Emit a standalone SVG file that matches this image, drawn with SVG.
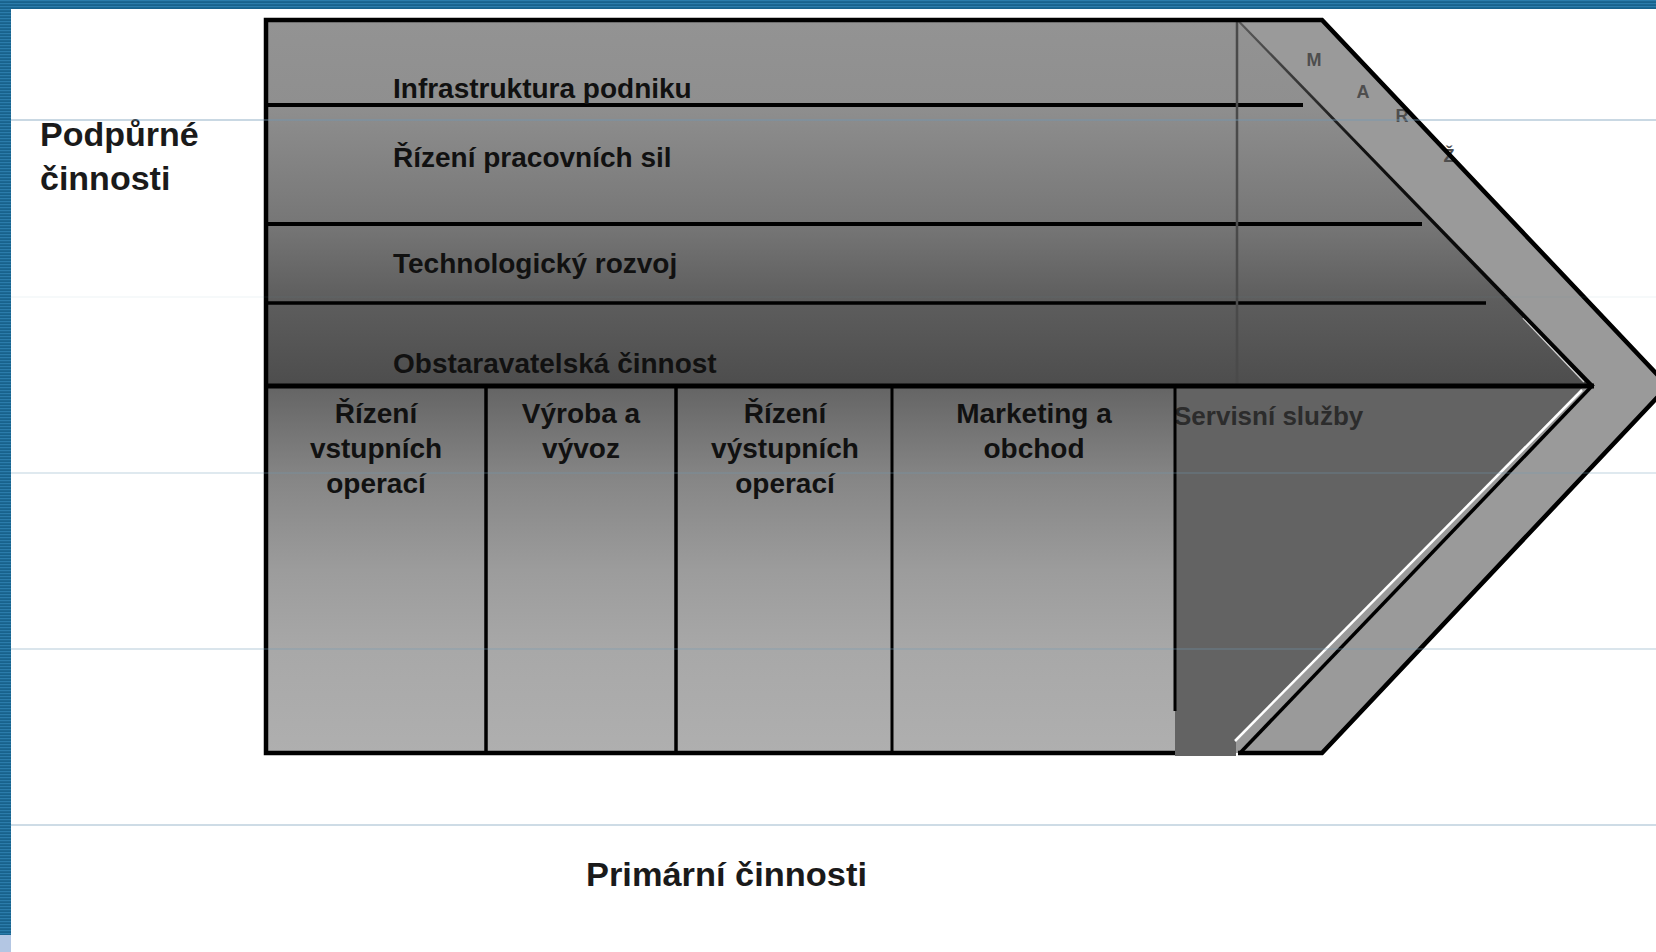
<svg xmlns="http://www.w3.org/2000/svg" width="1656" height="952" viewBox="0 0 1656 952">
  <defs>
    <pattern id="stripes" patternUnits="userSpaceOnUse" width="12" height="3">
      <rect x="0" y="0" width="12" height="3" fill="#18628c"/>
      <rect x="0" y="0" width="12" height="1.2" fill="#2b7cab"/>
    </pattern>
    <linearGradient id="gSupport" gradientUnits="userSpaceOnUse" x1="0" y1="20" x2="0" y2="386">
      <stop offset="0" stop-color="#939393"/>
      <stop offset="0.23" stop-color="#8f8f8f"/>
      <stop offset="0.56" stop-color="#767676"/>
      <stop offset="0.77" stop-color="#5d5d5d"/>
      <stop offset="1" stop-color="#4d4d4d"/>
    </linearGradient>
    <linearGradient id="gPrimary" gradientUnits="userSpaceOnUse" x1="0" y1="388" x2="0" y2="753">
      <stop offset="0" stop-color="#656565"/>
      <stop offset="0.25" stop-color="#868686"/>
      <stop offset="0.5" stop-color="#9c9c9c"/>
      <stop offset="0.72" stop-color="#a8a8a8"/>
      <stop offset="1" stop-color="#afafaf"/>
    </linearGradient>
    <linearGradient id="gDiag" gradientUnits="userSpaceOnUse" x1="0" y1="20" x2="0" y2="386">
      <stop offset="0" stop-color="#5a5a5a"/>
      <stop offset="0.35" stop-color="#111111"/>
      <stop offset="1" stop-color="#000000"/>
    </linearGradient>
  </defs>
  <style>
    .lbl { font-family: "Liberation Sans", Arial, sans-serif; font-weight: bold; font-size: 28px; fill: #111111; }
    .mid { text-anchor: middle; }
    .side { font-family: "Liberation Sans", Arial, sans-serif; font-weight: bold; font-size: 34px; fill: #1a1a1a; }
    .margin { font-family: "Liberation Sans", Arial, sans-serif; font-weight: bold; font-size: 18px; fill: #4e4e4e; text-anchor: middle; }
    .blk { stroke: #000000; fill: none; }
    .grid { stroke: #6f9ab5; stroke-width: 1.5; }
  </style>

  <rect x="0" y="0" width="1656" height="952" fill="#ffffff"/>

  <!-- slide frame -->
  <g id="frame">
    <rect x="0" y="0" width="1656" height="9" fill="url(#stripes)"/>
    <rect x="0" y="0" width="11" height="935" fill="url(#stripes)"/>
    <rect x="0" y="935" width="11" height="17" fill="#b3c6e3"/>
  </g>

  <!-- value chain shape -->
  <g id="chain">
    <polygon points="266,20 1322,20 1668,386 1322,753 266,753" fill="#9a9a9a"/>
    <polygon points="266,20 1237,20 1592,386 266,386" fill="url(#gSupport)"/>
    <rect x="266" y="386" width="909" height="367" fill="url(#gPrimary)"/>
  </g>

  <g id="support-rows">
    <line class="blk" x1="266" y1="105" x2="1303" y2="105" stroke-width="4"/>
    <line class="blk" x1="266" y1="224" x2="1422" y2="224" stroke-width="4"/>
    <line class="blk" x1="266" y1="303" x2="1486" y2="303" stroke-width="3.5"/>
    <line x1="1237" y1="22" x2="1237" y2="384" stroke="#4a4a4a" stroke-width="2.5"/>
    <line x1="1523" y1="318" x2="1584" y2="382" stroke="#ffffff" stroke-width="1.5" stroke-opacity="0.75"/>
    <polygon points="1236,20 1239,20 1595,386 1589,386" fill="url(#gDiag)"/>
  </g>

  <g id="node-infrastruktura"><text class="lbl" x="393" y="98">Infrastruktura podniku</text></g>
  <g id="node-rizeni-pracovnich-sil"><text class="lbl" x="393" y="167">Řízení pracovních sil</text></g>
  <g id="node-technologicky-rozvoj"><text class="lbl" x="393" y="273">Technologický rozvoj</text></g>
  <g id="node-obstaravatelska"><text class="lbl" x="393" y="373">Obstaravatelská činnost</text></g>

  <g id="node-servisni-sluzby">
    <polygon points="1175,388 1582,388 1236,741 1236,756 1175,756" fill="#636363"/>
    <text class="lbl" x="1174" y="425" style="font-size:26px;fill:#2c2c2c">Servisní služby</text>
    <line x1="1582" y1="390" x2="1235" y2="741" stroke="#ffffff" stroke-width="2.5"/>
    <line class="blk" x1="1592" y1="386" x2="1240" y2="753" stroke-width="3.5"/>
  </g>

  <g id="primary-dividers">
    <line class="blk" x1="266" y1="386" x2="1594" y2="386" stroke-width="5"/>
    <line class="blk" x1="486" y1="386" x2="486" y2="753" stroke-width="3.5"/>
    <line class="blk" x1="676" y1="386" x2="676" y2="753" stroke-width="3.5"/>
    <line class="blk" x1="892" y1="386" x2="892" y2="753" stroke-width="3"/>
    <line class="blk" x1="1175" y1="386" x2="1175" y2="711" stroke-width="3"/>
  </g>

  <g id="node-rizeni-vstupnich">
    <text class="lbl mid" x="376" y="423">Řízení</text>
    <text class="lbl mid" x="376" y="458">vstupních</text>
    <text class="lbl mid" x="376" y="493">operací</text>
  </g>
  <g id="node-vyroba">
    <text class="lbl mid" x="581" y="423">Výroba a</text>
    <text class="lbl mid" x="581" y="458">vývoz</text>
  </g>
  <g id="node-rizeni-vystupnich">
    <text class="lbl mid" x="785" y="423">Řízení</text>
    <text class="lbl mid" x="785" y="458">výstupních</text>
    <text class="lbl mid" x="785" y="493">operací</text>
  </g>
  <g id="node-marketing">
    <text class="lbl mid" x="1034" y="423">Marketing a</text>
    <text class="lbl mid" x="1034" y="458">obchod</text>
  </g>

  <g id="node-marze">
    <text class="margin" x="1314" y="66">M</text>
    <text class="margin" x="1363" y="98">A</text>
    <text class="margin" x="1402" y="122">R</text>
    <text class="margin" x="1449" y="162">Ž</text>
  </g>

  <g id="outline">
    <path class="blk" d="M1175,753 L266,753 L266,20 L1322,20 L1668,386 L1322,753 L1238,753" stroke-width="4.5" stroke-linejoin="miter"/>
  </g>

  <g id="node-podpurne"><text class="side" x="40" y="146">Podpůrné</text><text class="side" x="40" y="190">činnosti</text></g>
  <g id="node-primarni"><text class="side" x="586" y="886" style="font-size:33px" textLength="281" lengthAdjust="spacingAndGlyphs">Primární činnosti</text></g>

  <!-- faint slide guide lines -->
  <g id="guides">
    <line class="grid" x1="11" y1="120" x2="1656" y2="120" stroke-opacity="0.5"/>
    <line class="grid" x1="11" y1="297" x2="1656" y2="297" stroke-opacity="0.08"/>
    <line class="grid" x1="11" y1="473" x2="1656" y2="473" stroke-opacity="0.3"/>
    <line class="grid" x1="11" y1="649" x2="1656" y2="649" stroke-opacity="0.35"/>
    <line class="grid" x1="11" y1="825" x2="1656" y2="825" stroke-opacity="0.45"/>
  </g>
</svg>
